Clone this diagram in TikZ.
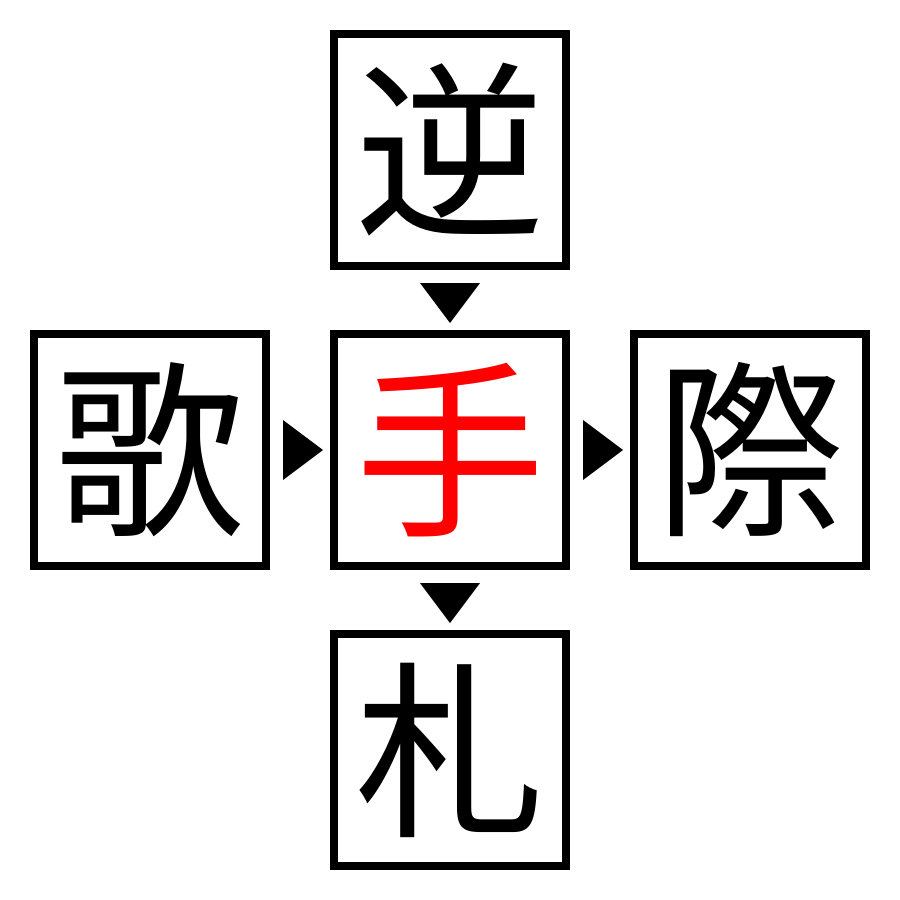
\documentclass[tikz,border=0pt]{standalone}
\usepackage{fontspec}
\newfontfamily\cjk{Noto Sans CJK JP}
\begin{document}
\begin{tikzpicture}[x=0.01cm,y=-0.01cm,
  cbox/.style={draw=black,line width=0.08cm,minimum size=2.32cm,inner sep=0pt,font=\cjk\fontsize{54}{54}\selectfont},
  tri/.style={fill=black}]
\useasboundingbox (0,0) rectangle (900,900);
\node[cbox] (t) at (450,150) {逆};
\node[cbox] (l) at (150,450) {歌};
\node[cbox,text=red] (c) at (450,450) {手};
\node[cbox] (r) at (750,450) {際};
\node[cbox] (b) at (450,750) {札};
\fill[tri] (420,283) -- (480,283) -- (450,323) -- cycle;
\fill[tri] (420,583) -- (480,583) -- (450,623) -- cycle;
\fill[tri] (283,420) -- (283,480) -- (323,450) -- cycle;
\fill[tri] (583,420) -- (583,480) -- (623,450) -- cycle;
\end{tikzpicture}
\end{document}
